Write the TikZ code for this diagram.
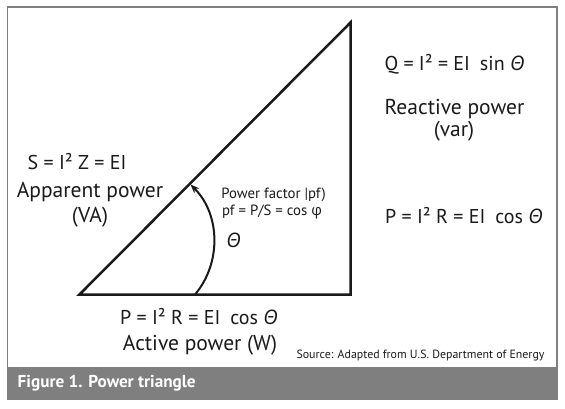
\documentclass[tikz,border=0pt]{standalone}
\usepackage{fontspec}
\setmainfont{PT Sans}
\newfontfamily\grk{Open Sans}
\usetikzlibrary{arrows.meta}
\newcommand{\Thta}{{\grk\itshape Θ}}
\newcommand{\phiup}{{\grk φ}}
\definecolor{framegray}{HTML}{7F7F7F}
\definecolor{inkc}{HTML}{1A1A1A}
\begin{document}
\begin{tikzpicture}[x=1pt,y=-1pt,
  lbl/.style={anchor=base,inner sep=0pt,text=inkc,font=\fontsize{20}{24}\selectfont},
  wrd/.style={anchor=base,inner sep=0pt,text=inkc,font=\fontsize{21.5}{25}\selectfont},
  sm/.style={anchor=base,inner sep=0pt,text=inkc,font=\fontsize{14.8}{16}\selectfont},
  src/.style={anchor=base,inner sep=0pt,text=inkc,font=\fontsize{11.9}{13}\selectfont},
  captext/.style={anchor=base west,inner sep=0pt,text=white,font=\fontsize{17.2}{19}\selectfont\bfseries},
  side/.style={line width=2.5pt,line join=miter,draw=inkc},
  arcarrow/.style={line width=2pt,draw=inkc,-{Stealth[length=9pt,width=7pt]}}
 ]
\useasboundingbox (0,0) rectangle (565,408);
\fill[white] (0,0) rectangle (565,408);
% frame and caption band
\draw[framegray,line width=1.8pt] (7.5,367) -- (7.5,6.8) -- (556.7,6.8) -- (556.7,367);
\fill[framegray] (6.6,367) rectangle (557.6,400);
\node[captext] (caption) at (17.5,387) {Figure 1. Power triangle};
% triangle
\coordinate (A) at (79.5,294.5);
\coordinate (B) at (350.5,294.5);
\coordinate (C) at (350.5,22.5);
\draw[side] (A) -- (B) -- (C) -- cycle;
% angle arrow
\coordinate (arcS) at (195,294.5);
\coordinate (arcE) at (190.5,184.5);
\draw[arcarrow] (arcS) .. controls (221,264) and (221,215) .. (arcE);
% labels
\node[lbl] (s1) at (77,169) {S = I² Z = EI};
\node[wrd] (s2) at (90,197) {Apparent power};
\node[wrd] (s3) at (90,222) {(VA)};
\node[sm] (pf1) at (273.5,198) {Power factor |pf)};
\node[sm] (pf2) at (272,215.7) {pf = P/S = cos \phiup};
\node[lbl] (th) at (233.5,247) {\Thta};
\node[lbl] (q1) at (454.5,70.7) {Q = I² = EI\enspace sin \Thta};
\node[wrd] (q2) at (454.5,114) {Reactive power};
\node[wrd] (q3) at (454,136.7) {(var)};
\node[lbl] (pr) at (464,223.3) {P = I² R = EI\enspace cos \Thta};
\node[lbl] (p1) at (199,324) {P = I² R = EI\enspace cos \Thta};
\node[wrd] (p2) at (200,350) {Active power (W)};
\node[src] (source) at (420.5,358.3) {Source: Adapted from U.S. Department of Energy};
\end{tikzpicture}
\end{document}
